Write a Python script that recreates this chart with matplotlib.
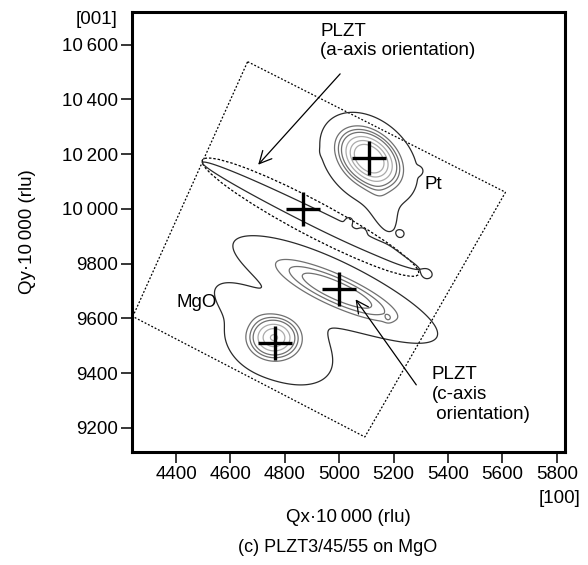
import numpy as np
import matplotlib
matplotlib.use("Agg")
from matplotlib import pyplot as plt
from matplotlib.patches import Ellipse, Polygon

plt.rcParams['font.family'] = ['Liberation Sans', 'DejaVu Sans']

# axis ticks (Qx, Qy x 10000)
x_ticks = [4400, 4600, 4800, 5000, 5200, 5400, 5600, 5800]
x_labels = ['4400', '4600', '4800', '5000', '5200', '5400', '5600', '5800']
y_ticks = [9200, 9400, 9600, 9800, 10000, 10200, 10400, 10600]
y_labels = ['9200', '9400', '9600', '9800', '10\u2009000', '10\u2009200', '10\u2009400', '10\u2009600']

# peak positions (crosses)
peak_names = ['Pt', 'PLZT a', 'PLZT c', 'MgO']
peak_qx = [5110, 4865, 5000, 4765]
peak_qy = [10187, 10000, 9707, 9512]

# intensity components used for the map: centre, widths, tilt, amplitude
comp_names = ['Pt', 'Pt halo', 'Pt tail', 'MgO', 'MgO halo', 'a streak', 'c core', 'c halo', 'bridge']
comp_qx = [5110, 5105, 5160, 4760, 4780, 4890, 4995, 4970, 4640]
comp_qy = [10185, 10170, 10000, 9530, 9495, 9978, 9700, 9712, 9660]
comp_s1 = [72, 125, 75, 55, 175, 370, 170, 265, 90]
comp_s2 = [50, 92, 30, 45, 100, 24, 38, 78, 40]
comp_ang = [-40, -45, -70, 0, -25, -26, -24, -27, -30]
comp_amp = [1.0, 0.12, 0.08, 0.72, 0.1, 0.1, 0.38, 0.1, 0.07]

# small isolated islands around the peaks
isle_qx = [4952, 5292, 5036, 5084, 5226, 5321, 4650, 5180]
isle_qy = [10208, 10139, 9956, 9916, 9909, 9762, 9655, 9600]

levels = [0.05, 0.2, 0.28, 0.36, 0.5, 0.65, 0.8]
level_colors = ['#2a2a2a', '#707070', '#707070', '#707070', '#ababab', '#ababab', '#ababab']

# dotted scan area and dashed ellipse
scan_qx = [4663, 5611, 5094, 4241]
scan_qy = [10538, 10061, 9167, 9607]
ell_centre = (4894, 9970)
ell_len, ell_wid, ell_ang = 897, 128, -27.7


def intensity(X, Y):
	Z = np.zeros_like(X)
	for cx, cy, s1, s2, a, amp in zip(comp_qx, comp_qy, comp_s1, comp_s2, comp_ang, comp_amp):
		t = np.radians(a)
		u = (X - cx) * np.cos(t) + (Y - cy) * np.sin(t)
		v = -(X - cx) * np.sin(t) + (Y - cy) * np.cos(t)
		Z += amp * np.exp(-0.5 * (u ** 2 / s1 ** 2 + v ** 2 / s2 ** 2))
	for cx, cy in zip(isle_qx, isle_qy):
		Z += 0.07 * np.exp(-0.5 * ((X - cx) ** 2 + (Y - cy) ** 2) / 10 ** 2)
	return Z


fig = plt.figure(figsize=(5.88, 5.65), dpi=100)
ax = fig.add_axes([0.224, 0.2, 0.737, 0.779])

qx = np.linspace(4200, 5900, 500)
qy = np.linspace(9050, 10750, 500)
X, Y = np.meshgrid(qx, qy)
Z = intensity(X, Y)
ax.contour(X, Y, Z, levels=levels, colors=level_colors, linewidths=0.9)

ax.plot(peak_qx, peak_qy, '+', color='black', markersize=24, markeredgewidth=2.4, linestyle='none')

ax.add_patch(Polygon(list(zip(scan_qx, scan_qy)), closed=True, fill=False,
	edgecolor='black', linestyle=(0, (1.5, 1.5)), linewidth=0.9))
ax.add_patch(Ellipse(ell_centre, ell_len, ell_wid, angle=ell_ang, fill=False,
	edgecolor='black', linestyle=(0, (2, 1.5)), linewidth=0.9))

ax.annotate('', xy=(4695, 10154), xytext=(5010, 10501),
	arrowprops=dict(arrowstyle='->', color='black', lw=0.9, mutation_scale=22))
ax.annotate('', xy=(5054, 9678), xytext=(5289, 9349),
	arrowprops=dict(arrowstyle='->', color='black', lw=0.9, mutation_scale=22))

fs = 13.5
ax.text(4930, 10680, 'PLZT\n(a-axis orientation)', fontsize=fs, va='top', ha='left')
ax.text(5314, 10088, 'Pt', fontsize=fs, va='center', ha='left')
ax.text(4403, 9660, 'MgO', fontsize=fs, va='center', ha='left')
ax.text(5339, 9425, 'PLZT\n(c-axis\n orientation)', fontsize=fs, va='top', ha='left')

ax.set_xlim(4237, 5830)
ax.set_ylim(9112, 10720)
ax.set_xticks(x_ticks)
ax.set_xticklabels(x_labels)
ax.set_yticks(y_ticks)
ax.set_yticklabels(y_labels)
ax.tick_params(direction='out', length=8, width=1.1, labelsize=fs, pad=2)
for s in ax.spines.values():
	s.set_linewidth(2.2)

ax.text(-0.032, 0.982, '[001]', transform=ax.transAxes, fontsize=fs, ha='right', va='center')
ax.text(1.035, -0.105, '[100]', transform=ax.transAxes, fontsize=fs, ha='right', va='center')

fig.text(348 / 588, 1 - 517 / 565, 'Qx\u00b710\u2009000 (rlu)', fontsize=fs, ha='center', va='center')
fig.text(28 / 588, 1 - 232 / 565, 'Qy\u00b710\u2009000 (rlu)', fontsize=fs, ha='center', va='center', rotation=90)
fig.text(338 / 588, 1 - 547 / 565, '(c) PLZT3/45/55 on MgO', fontsize=fs - 0.5, ha='center', va='center')

fig.savefig('out.png', dpi=100)
